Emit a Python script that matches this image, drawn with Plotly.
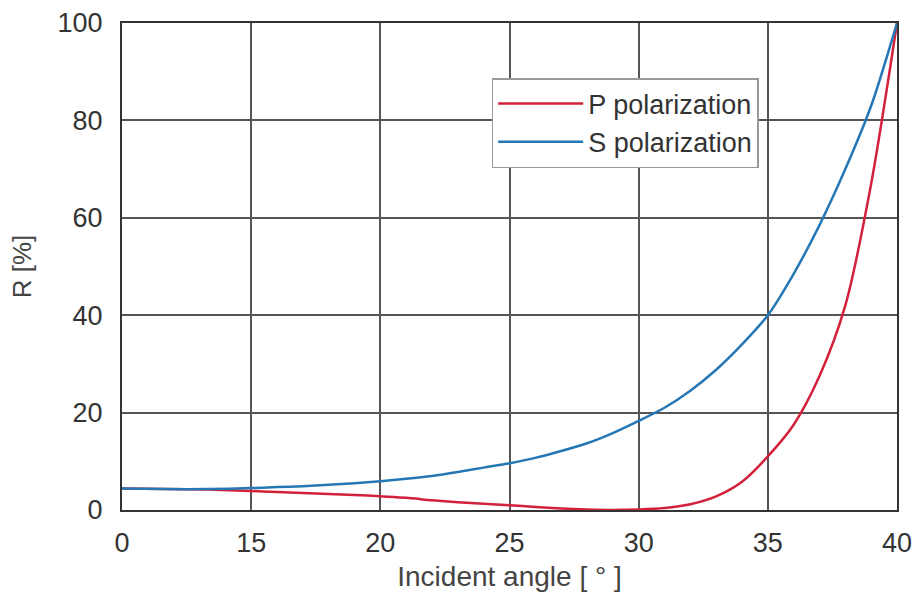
import numpy as np
import plotly.graph_objects as go

# Incident angle [deg] (axis is broken between 0 and 15)
angles = [0, 5, 10, 15, 16, 17, 18, 19, 20, 21, 22, 23, 24, 25, 26, 27, 28, 29,
          30, 31, 32, 33, 34, 35, 36, 37, 38, 39, 40]
p_pol = [4.4, 4.3, 4.2, 3.9, 3.7, 3.5, 3.3, 3.1, 2.8, 2.5, 2.0, 1.6, 1.3, 1.0, 0.6,
         0.3, 0.1, 0.0, 0.1, 0.4, 1.2, 2.8, 5.8, 11.0, 17.5, 27.5, 42.0, 67.0, 100.0]
s_pol = [4.4, 4.3, 4.3, 4.5, 4.7, 4.9, 5.2, 5.5, 5.9, 6.4, 7.0, 7.8, 8.7, 9.6, 10.7,
         12.1, 13.7, 15.8, 18.3, 21.0, 24.5, 28.8, 34.0, 40.0, 48.5, 58.5, 70.0, 83.0, 100.0]
tick_angles = [0, 15, 20, 25, 30, 35, 40]
tick_labels = ["0", "15", "20", "25", "30", "35", "40"]


def axis_pos(a):
    # broken axis: 0..15 compressed into one 5-degree interval
    a = np.asarray(a, dtype=float)
    return np.where(a >= 15, a, 10 + a * 5.0 / 15.0)


xp = axis_pos(angles)
txp = axis_pos(tick_angles)

fig = go.Figure()
fig.add_trace(go.Scatter(x=xp, y=p_pol, mode="lines", name="P polarization",
                         line=dict(color="#d4213b", width=2.5, shape="spline", smoothing=0.8)))
fig.add_trace(go.Scatter(x=xp, y=s_pol, mode="lines", name="S polarization",
                         line=dict(color="#2677b5", width=2.5, shape="spline", smoothing=0.8)))

font_family = "Liberation Sans, Arial, sans-serif"
fig.update_layout(
    width=919, height=592,
    margin=dict(l=122, r=22, t=23, b=82, autoexpand=False),
    paper_bgcolor="white", plot_bgcolor="white",
    font=dict(family=font_family, color="#333333", size=27),
    showlegend=True,
    legend=dict(x=0.477, y=0.887, xanchor="left", yanchor="top",
                bgcolor="white", bordercolor="#999999", borderwidth=1.5,
                font=dict(size=27, color="#333333"), tracegroupgap=0,
                itemwidth=85),
)
fig.update_xaxes(
    range=[10, 40], tickvals=txp, ticktext=tick_labels, automargin=False,
    showgrid=True, gridcolor="#555555", gridwidth=1.5,
    showline=True, linecolor="#333333", linewidth=2, mirror=True,
    ticks="", ticklabelstandoff=8, tickfont=dict(size=27, color="#333333"),
    title=dict(text="Incident angle [ ° ]", font=dict(size=28, color="#444444"), standoff=12),
    zeroline=False,
)
fig.update_yaxes(
    range=[0, 100], tickvals=[0, 20, 40, 60, 80, 100], automargin=False,
    showgrid=True, gridcolor="#555555", gridwidth=1.5,
    showline=True, linecolor="#333333", linewidth=2, mirror=True,
    ticks="", ticklabelstandoff=12, tickfont=dict(size=27, color="#333333"),
    title=dict(text="R [%]", font=dict(size=26, color="#444444"), standoff=18),
    zeroline=False,
)

fig.write_html("out.html")
